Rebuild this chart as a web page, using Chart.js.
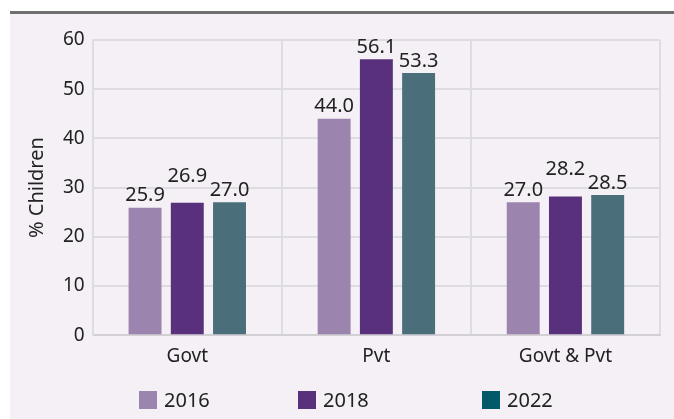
<!DOCTYPE html>
<html>
<head>
<meta charset="utf-8">
<script src="https://cdn.jsdelivr.net/npm/chart.js@4/dist/chart.umd.min.js"></script>
<style>
  html, body { margin: 0; padding: 0; background: #ffffff; }
  #panel {
    position: absolute; left: 10px; top: 11px; width: 664px; height: 405px;
    background: #f4f0f5; border-top: 3px solid #707070;
  }
  #wrap { position: absolute; left: 0; top: 0; width: 674px; height: 419px; }
</style>
</head>
<body>
<div id="panel"></div>
<div id="wrap"><canvas id="chart" width="674" height="419"></canvas></div>
<script>
// chart data
const categories = ['Govt', 'Pvt', 'Govt & Pvt'];
const years = ['2016', '2018', '2022'];
const values2016 = [25.9, 44.0, 27.0];
const values2018 = [26.9, 56.1, 28.2];
const values2022 = [27.0, 53.3, 28.5];
const yTicks = [0, 10, 20, 30, 40, 50, 60];

const barColors = ['#9b84ae', '#58307b', '#4a6f7b'];
const legendColors = ['#9b84ae', '#58307b', '#005a69'];
const FONT = '"Noto Sans", "Open Sans", sans-serif';

// value labels above each bar; the middle one is lifted when its
// neighbours sit at about the same height so the numbers don't collide
const valueLabels = {
    id: 'valueLabels',
    afterDatasetsDraw(chart) {
        const ctx = chart.ctx;
        const metas = chart.data.datasets.map((ds, i) => chart.getDatasetMeta(i));
        ctx.save();
        ctx.font = '20px ' + FONT;
        ctx.fillStyle = '#222222';
        ctx.textAlign = 'center';
        ctx.textBaseline = 'bottom';
        chart.data.datasets.forEach((ds, i) => {
            metas[i].data.forEach((bar, j) => {
                let y = bar.y - 2;
                if (i === 1) {
                    const near = [metas[0].data[j], metas[2].data[j]]
                        .some(b => Math.abs(b.y - bar.y) < 10);
                    if (near) y -= 15;
                }
                ctx.fillText(ds.data[j].toFixed(1), bar.x, y);
            });
        });
        ctx.restore();
    }
};

// legend drawn under the axis, spaced like the original
const bottomLegend = {
    id: 'bottomLegend',
    afterDraw(chart) {
        const ctx = chart.ctx;
        const xs = [139, 298, 482];
        const y = 391;
        ctx.save();
        ctx.font = '20px ' + FONT;
        ctx.textBaseline = 'middle';
        chart.data.datasets.forEach((ds, i) => {
            ctx.fillStyle = legendColors[i];
            ctx.fillRect(xs[i], y, 18, 18);
            ctx.fillStyle = '#222222';
            ctx.fillText(ds.label, xs[i] + 25, y + 10);
        });
        ctx.restore();
    }
};

new Chart(document.getElementById('chart'), {
    type: 'bar',
    data: {
        labels: categories,
        datasets: [
            { label: years[0], data: values2016, backgroundColor: barColors[0] },
            { label: years[1], data: values2018, backgroundColor: barColors[1] },
            { label: years[2], data: values2022, backgroundColor: barColors[2] }
        ]
    },
    options: {
        responsive: false,
        animation: false,
        barPercentage: 0.78,
        categoryPercentage: 0.67,
        layout: { padding: { left: 20, right: 14, top: 40, bottom: 41 } },
        plugins: {
            legend: { display: false },
            tooltip: { enabled: false }
        },
        scales: {
            x: {
                grid: { color: '#dedbe1', lineWidth: 2, drawTicks: false, offset: true },
                border: { color: '#d2cfd5', width: 2 },
                ticks: { color: '#222222', font: { family: FONT, size: 19 }, padding: 10 }
            },
            y: {
                min: 0,
                max: 60,
                afterBuildTicks(scale) { scale.ticks = yTicks.map(v => ({ value: v })); },
                grid: { color: '#dedbe1', lineWidth: 2, drawTicks: false },
                border: { color: '#dedbe1', width: 2 },
                ticks: { color: '#222222', font: { family: FONT, size: 19 }, padding: 8 },
                title: {
                    display: true,
                    text: '% Children',
                    color: '#222222',
                    font: { family: FONT, size: 20 },
                    padding: { top: 5, bottom: 6 }
                }
            }
        }
    },
    plugins: [valueLabels, bottomLegend]
});
</script>
</body>
</html>
